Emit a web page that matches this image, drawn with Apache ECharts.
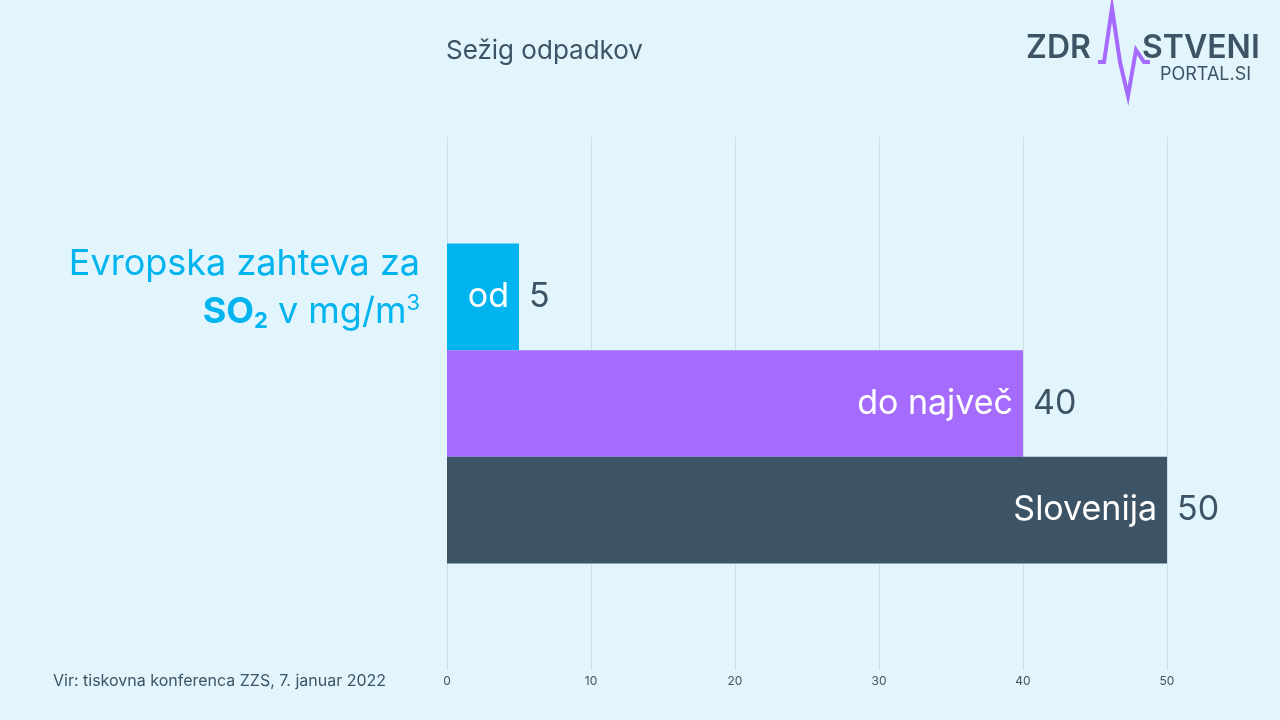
<!DOCTYPE html>
<html>
<head>
<meta charset="utf-8">
<script src="https://cdn.jsdelivr.net/npm/echarts@6/dist/echarts.min.js"></script>
<style>html,body{margin:0;padding:0;background:#e2f4fc}#chart{width:1280px;height:720px}</style>
</head>
<body>
<div id="chart"></div>
<script>
// podatki
let categories = ['', 'od', 'do največ', 'Slovenija', ''];
let values = [null, 5, 40, 50, null];
let barColors = ['#00b4f0', '#00b4f0', '#a56bfd', '#3d5466', '#3d5466'];
let xTicks = [0, 10, 20, 30, 40, 50];

let myChart = echarts.init(document.getElementById('chart'));
let font = 'Inter, "Noto Sans", sans-serif';

option = {
    backgroundColor: '#e2f4fc',
    animation: false,
    grid: { left: 447, right: 113, top: 137, bottom: 50 },
    xAxis: {
        type: 'value', min: xTicks[0], max: xTicks[xTicks.length - 1], interval: 10,
        axisLine: { show: false }, axisTick: { show: false },
        splitLine: { lineStyle: { color: '#cfdde4', width: 1 } },
        axisLabel: { color: '#3d5466', fontSize: 12, fontFamily: font, margin: 5 }
    },
    yAxis: {
        type: 'category', inverse: true, data: categories,
        axisLine: { show: false }, axisTick: { show: false }, axisLabel: { show: false }
    },
    series: [{
        type: 'bar', barCategoryGap: 0,
        data: values.map((v, i) => ({ value: v, itemStyle: { color: barColors[i] } })),
        label: {
            show: true, position: 'right', distance: 10, color: '#3d5466',
            fontSize: 34, fontFamily: font, formatter: '{c}'
        }
    }, {
        type: 'bar', barGap: '-100%', barCategoryGap: 0, silent: true,
        data: values,
        itemStyle: { color: 'rgba(0,0,0,0)' },
        label: {
            show: true, position: 'insideRight', distance: 10, color: '#ffffff',
            fontSize: 34, fontFamily: font,
            formatter: p => categories[p.dataIndex]
        }
    }],
    graphic: [
        { type: 'text', left: 446, top: 38, style: { text: 'Sežig odpadkov', fill: '#3d5466', font: '26px ' + font } },
        { type: 'text', right: 860, top: 246, style: { text: 'Evropska zahteva za', fill: '#00b4f0', font: '36px ' + font, textAlign: 'right' } },
        { type: 'text', right: 860, top: 292, style: {
            text: '{b|SO}{s|2}{n| v mg/m}{p|3}', textAlign: 'right',
            rich: {
                b: { fill: '#00b4f0', font: 'bold 36px ' + font },
                s: { fill: '#00b4f0', font: 'bold 22px ' + font, padding: [18, 0, 0, 0] },
                n: { fill: '#00b4f0', font: '36px ' + font },
                p: { fill: '#00b4f0', font: '22px ' + font, padding: [0, 0, 18, 0] }
            } } },
        { type: 'text', left: 53, top: 673, style: { text: 'Vir: tiskovna konferenca ZZS, 7. januar 2022', fill: '#3d5466', font: '16px ' + font } },
        // logotip
        { type: 'text', left: 1026, top: 32, style: { text: 'ZDR', fill: '#3d5466', font: '600 32px ' + font } },
        { type: 'text', left: 1142, top: 32, style: { text: 'STVENI', fill: '#3d5466', font: '600 32px ' + font } },
        { type: 'text', left: 1160, top: 66, style: { text: 'PORTAL.SI', fill: '#3d5466', font: '18px ' + font } },
        { type: 'polyline', shape: { points: [[1098, 62], [1104, 62], [1112, 8], [1120, 62], [1128, 96], [1136, 50], [1144, 62], [1150, 62]] },
          style: { stroke: '#a56bfd', lineWidth: 4, fill: null } }
    ]
};
myChart.setOption(option);
</script>
</body>
</html>
